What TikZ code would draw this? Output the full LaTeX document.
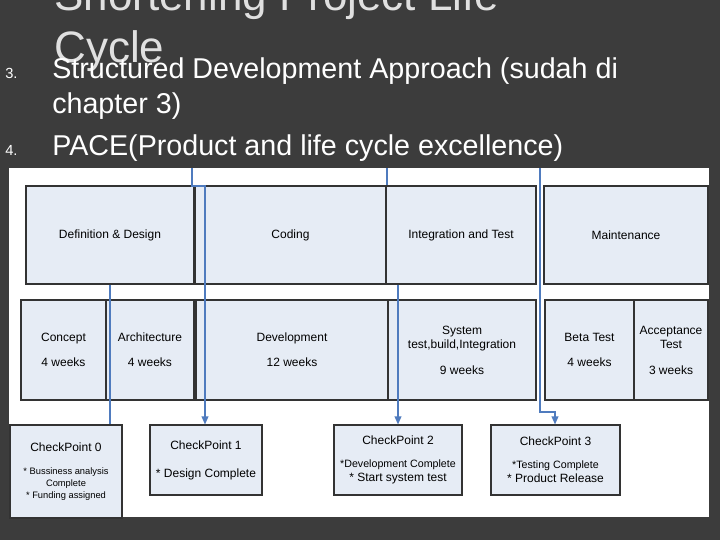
\documentclass[tikz,border=0pt]{standalone}
\usepackage{fontspec}
\setmainfont{Liberation Sans}
\usetikzlibrary{arrows.meta}
\definecolor{bg}{HTML}{3C3C3C}
\definecolor{boxfill}{HTML}{E6ECF5}
\definecolor{lnk}{HTML}{4F7BBE}
\begin{document}
\begin{tikzpicture}[x=0.75pt,y=-0.75pt,
  bx/.style={draw=black!80,line width=0.8pt,fill=boxfill,inner sep=0pt,font=\fontsize{9}{11}\selectfont,align=center},
  cp/.style={bx,font=\fontsize{9}{11}\selectfont},
  lk/.style={draw=lnk,line width=1pt},
  ar/.style={lk,-{Triangle[length=6pt,width=5pt]}},
  tt/.style={text=white,anchor=base west,inner sep=0pt}]
\fill[bg] (0,0) rectangle (720,540);
\useasboundingbox (0,0) rectangle (720,540);
\node[tt,text=white!88!black,font=\fontsize{33}{35}\selectfont] (t1) at (54,10) {Shortening Project Life};
\node[tt,text=white!88!black,font=\fontsize{33}{35}\selectfont] (t2) at (54,62) {Cycle};
\node[tt,font=\fontsize{11}{13}\selectfont] (n3) at (5,78) {3.};
\node[tt,font=\fontsize{21.5}{24}\selectfont] (l1) at (52,78) {Structured Development Approach (sudah di};
\node[tt,font=\fontsize{21.5}{24}\selectfont] (l2) at (52,113) {chapter 3)};
\node[tt,font=\fontsize{11}{13}\selectfont] (n4) at (5,155) {4.};
\node[tt,font=\fontsize{21.5}{24}\selectfont] (l3) at (52,155) {PACE(Product and life cycle excellence)};
\fill[white] (9,168) rectangle (709,517);
% top row
\node[bx,minimum width=168*0.75pt,minimum height=98*0.75pt] (dd) at (110,235) {Definition \& Design};
\node[bx,minimum width=191*0.75pt,minimum height=98*0.75pt] (cod) at (290.5,235) {Coding};
\node[bx,minimum width=150*0.75pt,minimum height=98*0.75pt] (it) at (461,235) {Integration and Test};
\node[bx,minimum width=164*0.75pt,minimum height=98*0.75pt] (mt) at (626,235) {Maintenance};
% second row
\node[bx,minimum width=85*0.75pt,minimum height=100*0.75pt] (con) at (63.5,350) {Concept\\[8pt]4 weeks};
\node[bx,minimum width=88*0.75pt,minimum height=100*0.75pt] (arc) at (150,350) {Architecture\\[8pt]4 weeks};
\node[bx,minimum width=192*0.75pt,minimum height=100*0.75pt] (dev) at (292,350) {Development\\[8pt]12 weeks};
\node[bx,minimum width=148*0.75pt,minimum height=100*0.75pt] (sys) at (462,350) {System\\test,build,Integration\\[8pt]9 weeks};
\node[bx,minimum width=89*0.75pt,minimum height=100*0.75pt] (bt) at (589.5,350) {Beta Test\\[8pt]4 weeks};
\node[bx,minimum width=74*0.75pt,minimum height=100*0.75pt] (acc) at (671,350) {Acceptance\\Test\\[8pt]3 weeks};
% checkpoints
\node[cp,minimum width=112*0.75pt,minimum height=93*0.75pt,font=\fontsize{7}{9}\selectfont] (c0) at (66,471.5) {{\fontsize{9}{11}\selectfont CheckPoint 0}\\[8pt]* Bussiness analysis\\Complete\\* Funding assigned};
\node[cp,minimum width=112*0.75pt,minimum height=70*0.75pt] (c1) at (206,460) {CheckPoint 1\\[10pt]* Design Complete};
\node[cp,minimum width=128*0.75pt,minimum height=70*0.75pt] (c2) at (398,460) {CheckPoint 2\\[6pt]{\fontsize{8}{10}\selectfont *Development Complete}\\* Start system test};
\node[cp,minimum width=129*0.75pt,minimum height=70*0.75pt] (c3) at (555.5,460) {CheckPoint 3\\[6pt]{\fontsize{8}{10}\selectfont *Testing Complete}\\* Product Release};
% connectors
\coordinate (s1) at (192,168);
\coordinate (s2) at (387,168);
\coordinate (s3) at (540,168);
\draw[lk] (dd.south -| c0.north) ++(44,0) coordinate (x0) -- (x0 |- c0.north);
\draw[ar] (s1) -- (192,186) -- (205,186) -- (c1.north -| 205,0);
\draw[lk] (s2) -- (dd.north -| s2);
\draw[ar] (it.south -| 398,0) -- (c2.north -| 398,0);
\draw[ar] (s3) -- (540,412) -- (555,412) -- (c3.north -| 555,0);
\end{tikzpicture}
\end{document}
